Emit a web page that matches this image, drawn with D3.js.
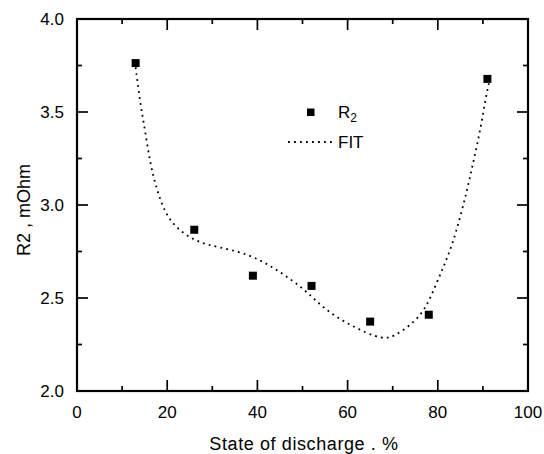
<!DOCTYPE html>
<html><head><meta charset="utf-8">
<script src="https://cdn.jsdelivr.net/npm/d3@7"></script>
<style>body{margin:0;background:#fff}svg{display:block}text{font-family:"Liberation Sans",Arial,sans-serif;fill:#000}</style>
</head><body><svg id="c" width="544" height="454"></svg>
<script>
const discharge = [13, 26, 39, 52, 65, 78, 91];
const r2 = [3.763, 2.867, 2.62, 2.565, 2.373, 2.41, 3.678];
const fitX = [13, 14, 15.1, 16.2, 17.7, 19.5, 21.7, 25.1, 28.8, 33.9, 39.6, 45, 50.2, 53.9, 57.9, 62, 66.4, 68.5, 70.1, 73.8, 77.2, 79.4, 81.6, 83.3, 85.0, 86.4, 87.5, 88.6, 89.7, 90.8, 91.4];
const fitY = [3.74, 3.55, 3.40, 3.225, 3.08, 2.96, 2.885, 2.821, 2.785, 2.762, 2.72, 2.641, 2.552, 2.462, 2.391, 2.337, 2.289, 2.285, 2.292, 2.349, 2.435, 2.561, 2.687, 2.794, 2.937, 3.071, 3.19, 3.31, 3.44, 3.60, 3.66];
const xTicks = [0, 20, 40, 60, 80, 100];
const yTicks = [2.0, 2.5, 3.0, 3.5, 4.0];
const xMinor = [10, 30, 50, 70, 90];
const yMinor = [2.25, 2.75, 3.25, 3.75];

const svg = d3.select("#c");
const L = 77, R = 528, T = 19, B = 391;
const x = d3.scaleLinear().domain([0, 100]).range([L, R]);
const y = d3.scaleLinear().domain([2, 4]).range([B, T]);

const g = svg.append("g");
const tk = (sel) => sel.attr("stroke", "#000").attr("stroke-width", 1.7);
xTicks.concat(xMinor).forEach(v => {
  const len = xTicks.includes(v) ? 11 : 5;
  tk(g.append("line").attr("x1", x(v)).attr("x2", x(v)).attr("y1", B).attr("y2", B - len));
  tk(g.append("line").attr("x1", x(v)).attr("x2", x(v)).attr("y1", T).attr("y2", T + len));
});
yTicks.concat(yMinor).forEach(v => {
  const len = yTicks.includes(v) ? 11 : 5;
  tk(g.append("line").attr("y1", y(v)).attr("y2", y(v)).attr("x1", L).attr("x2", L + len));
  tk(g.append("line").attr("y1", y(v)).attr("y2", y(v)).attr("x1", R).attr("x2", R - len));
});
g.append("rect").attr("x", L).attr("y", T).attr("width", R - L).attr("height", B - T)
  .attr("fill", "none").attr("stroke", "#000").attr("stroke-width", 2.2);

g.selectAll(".xl").data(xTicks).enter().append("text")
  .attr("x", d => x(d)).attr("y", B + 27).attr("text-anchor", "middle")
  .attr("font-size", 17).text(d => d);
g.selectAll(".yl").data(yTicks).enter().append("text")
  .attr("x", L - 13).attr("y", d => y(d) + 6).attr("text-anchor", "end")
  .attr("font-size", 17).text(d => d.toFixed(1));

svg.append("text").attr("x", 304).attr("y", 450).attr("text-anchor", "middle")
  .attr("font-size", 18).attr("letter-spacing", 0.6).text("State of discharge . %");
svg.append("text").attr("transform", "translate(30,210) rotate(-90)").attr("text-anchor", "middle")
  .attr("font-size", 18).text("R2 , mOhm");

const fit = fitX.map((v, i) => [v, fitY[i]]);
svg.append("path").datum(fit)
  .attr("d", d3.line().x(d => x(d[0])).y(d => y(d[1])).curve(d3.curveBasis))
  .attr("fill", "none").attr("stroke", "#000").attr("stroke-width", 1.8)
  .attr("stroke-dasharray", "1.8,4.2");

const s = 8;
svg.selectAll(".pt").data(discharge).enter().append("rect")
  .attr("x", (d) => x(d) - s / 2).attr("y", (d, i) => y(r2[i]) - s / 2)
  .attr("width", s).attr("height", s).attr("fill", "#000");

svg.append("rect").attr("x", 307).attr("y", 108.5).attr("width", 7.5).attr("height", 7.5).attr("fill", "#000");
const t1 = svg.append("text").attr("x", 338).attr("y", 118).attr("font-size", 17);
t1.append("tspan").text("R");
t1.append("tspan").attr("font-size", 12).attr("dy", 4).text("2");
svg.append("line").attr("x1", 288).attr("x2", 333).attr("y1", 142).attr("y2", 142)
  .attr("stroke", "#000").attr("stroke-width", 1.8).attr("stroke-dasharray", "1.8,4.2");
svg.append("text").attr("x", 338).attr("y", 148).attr("font-size", 17).text("FIT");
</script></body></html>
